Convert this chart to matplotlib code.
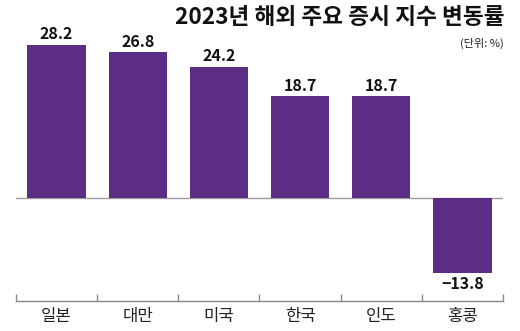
import matplotlib
matplotlib.use("Agg")
import matplotlib.pyplot as plt

plt.rcParams['font.family'] = ['Noto Sans CJK KR', 'DejaVu Sans']

categories = ["일본", "대만", "미국", "한국", "인도", "홍콩"]
values = [28.2, 26.8, 24.2, 18.7, 18.7, -13.8]
labels = ["28.2", "26.8", "24.2", "18.7", "18.7", "\u221213.8"]
title = "2023년 해외 주요 증시 지수 변동률"
unit = "(단위: %)"

bar_color = "#5B2D84"

fig = plt.figure(figsize=(5.2, 3.31), dpi=100)
ax = fig.add_axes([16/520, 1-301/331, 487/520, (301-35)/331])

x = list(range(len(categories)))
ax.bar(x, values, width=0.72, color=bar_color, zorder=2)
ax.axhline(0, color="#9a9a9a", lw=1.0, zorder=1)

ax.set_xlim(-0.5, len(categories)-0.5)
ax.set_ylim(-(301-198)/5.43, (198-35)/5.43)

for xi, v, lab in zip(x, values, labels):
    if v >= 0:
        ax.annotate(lab, (xi, v), xytext=(0, 2), textcoords="offset points",
                    ha="center", va="bottom", fontsize=11.5, fontweight="bold", color="#111111")
    else:
        ax.annotate(lab, (xi, v), xytext=(0, -2), textcoords="offset points",
                    ha="center", va="top", fontsize=11.5, fontweight="bold", color="#111111")

for s in ["top", "left", "right"]:
    ax.spines[s].set_visible(False)
ax.spines["bottom"].set_color("#8a8a8a")
ax.spines["bottom"].set_linewidth(1.0)
ax.set_yticks([])
ax.set_xticks(x)
ax.set_xticklabels(categories, fontsize=12, color="#222222")
ax.tick_params(axis="x", which="major", length=0, pad=5)
ax.set_xticks([i - 0.5 for i in range(len(categories)+1)], minor=True)
ax.tick_params(axis="x", which="minor", direction="in", length=5, color="#8a8a8a", width=1.0)

fig.text(505/520, 1-18/331, title, ha="right", va="center", fontsize=16.3, fontweight="bold", color="#111111")
fig.text(504/520, 1-43/331, unit, ha="right", va="center", fontsize=8, color="#222222")

fig.savefig("out.png", dpi=100)
